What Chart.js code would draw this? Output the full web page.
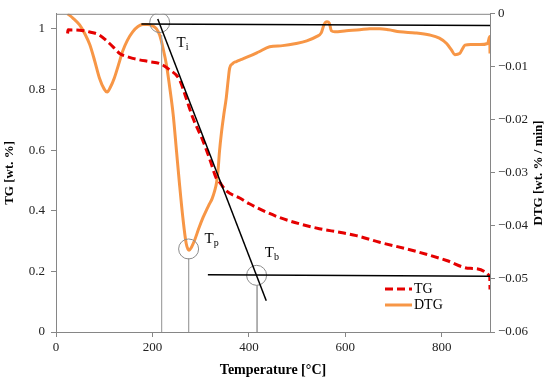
<!DOCTYPE html>
<html lang="en">

<head>
    <meta charset="UTF-8">
    <title>TG / DTG</title>
    <style>
        body {
            margin: 0;
            padding: 0;
            background: #fff;
        }

        .chart-container {
            width: 550px;
            height: 382px;
        }
    </style>
</head>

<body>
    <div class="chart-container">
        <canvas id="tgChart" width="550" height="382"></canvas>
    </div>
    <script src="https://cdn.jsdelivr.net/npm/chart.js"></script>
    <script>
        // TG curve (fraction of initial mass)
        const tgTemp = [24, 25, 49, 70, 90, 111, 125, 132, 145, 159, 194, 215, 235, 256, 270, 284, 305, 320, 332, 339, 353, 381, 401, 422, 463, 505, 546, 588, 623, 671, 740, 810, 858, 899.5, 900];
        const tgValues = [0.985, 0.997, 0.996, 0.99, 0.98, 0.952, 0.93, 0.919, 0.91, 0.903, 0.892, 0.886, 0.866, 0.833, 0.771, 0.706, 0.63, 0.565, 0.509, 0.495, 0.466, 0.442, 0.423, 0.406, 0.378, 0.357, 0.341, 0.329, 0.318, 0.296, 0.269, 0.236, 0.21, 0.184, 0.14];

        // DTG curve (wt. % / min)
        const dtgTemp = [24, 35, 49, 60, 70, 80, 90, 100, 106, 113, 121, 130, 138, 148, 159, 170, 180, 190, 201, 208, 215, 222, 229, 236, 243, 250, 256, 263, 270, 276, 281, 287, 296, 305, 312, 318, 324, 329, 333, 336, 339, 343, 348, 353, 357, 360, 366, 374, 385, 401, 420, 443, 470, 498, 520, 540, 550, 556, 562, 567, 571, 578, 602, 630, 651, 671, 690, 713, 745, 775, 795, 810, 820, 827, 837, 843, 848, 860, 879, 895, 899.5, 900];
        const dtgValues = [0.0, -0.0008, -0.0021, -0.0038, -0.0058, -0.0088, -0.0121, -0.0142, -0.01475, -0.0138, -0.0121, -0.0095, -0.0071, -0.005, -0.0034, -0.0024, -0.002, -0.002, -0.0023, -0.0028, -0.004, -0.0065, -0.0096, -0.014, -0.019, -0.026, -0.032, -0.0384, -0.0433, -0.0446, -0.044, -0.0428, -0.0405, -0.0384, -0.037, -0.0359, -0.0348, -0.0334, -0.0318, -0.0296, -0.026, -0.0225, -0.019, -0.0159, -0.0125, -0.0103, -0.0094, -0.009, -0.0086, -0.008, -0.0072, -0.0062, -0.006, -0.0056, -0.0051, -0.0043, -0.0036, -0.002, -0.0015, -0.0018, -0.0032, -0.0034, -0.0032, -0.003, -0.0028, -0.0028, -0.003, -0.0034, -0.0036, -0.004, -0.0046, -0.0056, -0.0068, -0.0077, -0.0075, -0.0066, -0.0059, -0.0058, -0.0058, -0.0056, -0.0043, -0.0075];

        // tick labels
        const xTicks = [0, 200, 400, 600, 800];
        const tgTicks = [0, 0.2, 0.4, 0.6, 0.8, 1];
        const dtgTicks = [0, -0.01, -0.02, -0.03, -0.04, -0.05, -0.06];

        // construction lines (temperature, TG)
        const tiBaseline = [[177, 0.0019], [900, 0.0022]]; // DTG units (negated below)
        const tangentLine = [[211, 1.033], [436, 0.103]];
        const tbBaseline = [[315, 0.189], [900, 0.184]];

        // characteristic points: name, circle centre, drop line top, label position
        const markNames = ['i', 'p', 'b'];
        const markCentre = [[215, 1.021], [275, 0.274], [416, 0.187]];
        const markDrop = [[219, 0.98], [275, 0.243], [417, 0.154]];
        const markLabel = [[250, 0.941], [308, 0.295], [433, 0.246]];

        const serif = '"Liberation Serif", "Times New Roman", serif';
        const axisGrey = '#868686';
        const red = '#e50000';
        const orange = '#f79646';

        const pts = (xs, ys) => xs.map((x, i) => ({ x: x, y: ys[i] }));
        const pairPts = arr => arr.map(p => ({ x: p[0], y: p[1] }));

        const datasets = [];

        // black construction lines
        datasets.push({
            data: tiBaseline.map(p => ({ x: p[0], y: -p[1] })),
            yAxisID: 'y2', showLine: true, borderColor: '#000', borderWidth: 1.5, pointRadius: 0
        });
        datasets.push({
            data: pairPts(tangentLine),
            yAxisID: 'y', showLine: true, borderColor: '#000', borderWidth: 1.5, pointRadius: 0
        });
        datasets.push({
            data: pairPts(tbBaseline),
            yAxisID: 'y', showLine: true, borderColor: '#000', borderWidth: 1.5, pointRadius: 0
        });

        // circles and grey drop lines
        datasets.push({
            data: pairPts(markCentre),
            yAxisID: 'y', showLine: false, pointRadius: 10, pointStyle: 'circle',
            backgroundColor: 'rgba(0,0,0,0)', borderColor: '#8c8c8c', borderWidth: 1
        });
        markDrop.forEach(p => {
            datasets.push({
                data: [{ x: p[0], y: p[1] }, { x: p[0], y: 0 }],
                yAxisID: 'y', showLine: true, borderColor: '#a6a6a6', borderWidth: 1, pointRadius: 0
            });
        });

        // TG and DTG
        datasets.push({
            label: 'TG',
            data: pts(tgTemp, tgValues),
            yAxisID: 'y', showLine: true, borderColor: red, borderWidth: 3,
            borderDash: [8, 4], pointRadius: 0, cubicInterpolationMode: 'monotone'
        });
        datasets.push({
            label: 'DTG',
            data: pts(dtgTemp, dtgValues),
            yAxisID: 'y2', showLine: true, borderColor: orange, borderWidth: 3,
            pointRadius: 0, cubicInterpolationMode: 'monotone'
        });

        // frame top, right title, T labels, legend
        const extras = {
            id: 'extras',
            afterDraw(chart) {
                const { ctx, chartArea: a, scales } = chart;
                ctx.save();
                ctx.strokeStyle = axisGrey;
                ctx.lineWidth = 1;
                ctx.beginPath();
                ctx.moveTo(a.left, a.top + 0.5);
                ctx.lineTo(a.right, a.top + 0.5);
                ctx.stroke();

                // labels T_i, T_p, T_b
                ctx.fillStyle = '#000';
                ctx.textBaseline = 'alphabetic';
                markLabel.forEach((p, i) => {
                    const x = scales.x.getPixelForValue(p[0]);
                    const y = scales.y.getPixelForValue(p[1]);
                    ctx.font = '15px ' + serif;
                    ctx.textAlign = 'left';
                    ctx.fillText('T', x, y);
                    const w = ctx.measureText('T').width;
                    ctx.font = '10px ' + serif;
                    ctx.fillText(markNames[i], x + w, y + 3);
                });

                // right axis title
                ctx.font = 'bold 13px ' + serif;
                ctx.textAlign = 'center';
                ctx.textBaseline = 'middle';
                ctx.translate(539, (a.top + a.bottom) / 2);
                ctx.rotate(-Math.PI / 2);
                ctx.fillText('DTG [wt. % / min]', 0, 0);
                ctx.restore();

                // legend
                ctx.save();
                ctx.lineWidth = 3;
                ctx.strokeStyle = red;
                ctx.setLineDash([8, 4]);
                ctx.beginPath();
                ctx.moveTo(385, 289);
                ctx.lineTo(412, 289);
                ctx.stroke();
                ctx.setLineDash([]);
                ctx.strokeStyle = orange;
                ctx.beginPath();
                ctx.moveTo(385, 305);
                ctx.lineTo(412, 305);
                ctx.stroke();
                ctx.fillStyle = '#000';
                ctx.font = '14px ' + serif;
                ctx.textAlign = 'left';
                ctx.textBaseline = 'middle';
                ctx.fillText('TG', 414, 289);
                ctx.fillText('DTG', 414, 305);
                ctx.restore();
            }
        };

        const gridOpts = { drawOnChartArea: false, color: axisGrey, tickLength: 5 };
        const tickFont = { family: serif, size: 13 };

        new Chart(document.getElementById('tgChart').getContext('2d'), {
            type: 'scatter',
            data: { datasets: datasets },
            options: {
                responsive: false,
                animation: false,
                layout: { padding: { top: 12 } },
                plugins: { legend: { display: false }, tooltip: { enabled: false } },
                scales: {
                    x: {
                        type: 'linear', position: 'bottom', min: 0, max: 900,
                        afterBuildTicks: s => { s.ticks = xTicks.map(v => ({ value: v })); },
                        afterFit: s => { s.height = 50; },
                        grid: gridOpts,
                        border: { color: axisGrey },
                        ticks: { font: tickFont, color: '#222', padding: 3, maxRotation: 0 },
                        title: {
                            display: true, text: 'Temperature [°C]', color: '#000',
                            font: { family: serif, size: 14, weight: 'bold' }, padding: { top: 0, bottom: 3 }
                        }
                    },
                    y: {
                        type: 'linear', position: 'left', min: 0, max: 1.05,
                        afterBuildTicks: s => { s.ticks = tgTicks.map(v => ({ value: v })); },
                        afterFit: s => { s.width = 56; },
                        grid: gridOpts,
                        border: { color: axisGrey },
                        ticks: { font: tickFont, color: '#222', padding: 6, callback: v => String(+v.toFixed(1)) },
                        title: {
                            display: true, text: 'TG [wt. %]', color: '#000',
                            font: { family: serif, size: 13, weight: 'bold' }, padding: { top: 2, bottom: 0 }
                        }
                    },
                    y2: {
                        type: 'linear', position: 'right', min: -0.06, max: 0,
                        afterBuildTicks: s => { s.ticks = dtgTicks.map(v => ({ value: v })); },
                        afterFit: s => { s.width = 60; },
                        grid: gridOpts,
                        border: { color: axisGrey },
                        ticks: {
                            font: tickFont, color: '#222', padding: 3,
                            callback: v => v === 0 ? '0' : '\u2212' + Math.abs(v).toFixed(2)
                        }
                    }
                }
            },
            plugins: [extras]
        });
    </script>
</body>

</html>
